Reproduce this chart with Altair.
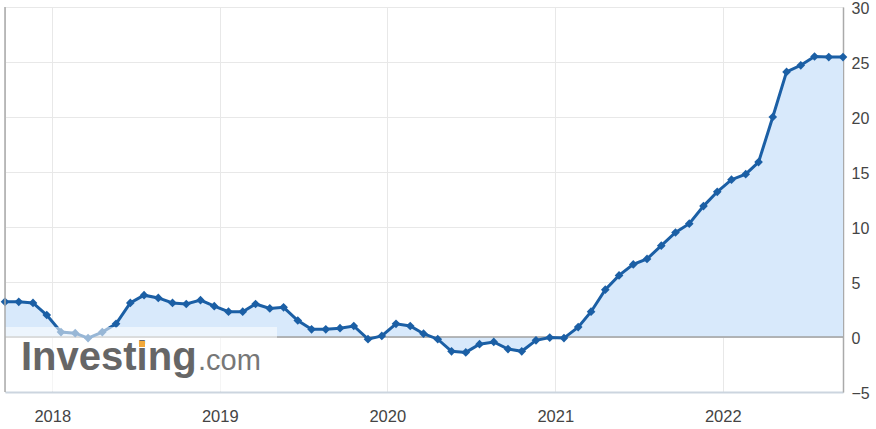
import altair as alt
import pandas as pd

dates = [
    "2017-09-20", "2017-10-20", "2017-11-20", "2017-12-20",
    "2018-01-20", "2018-02-20", "2018-03-20", "2018-04-20", "2018-05-20", "2018-06-20",
    "2018-07-20", "2018-08-20", "2018-09-20", "2018-10-20", "2018-11-20", "2018-12-20",
    "2019-01-20", "2019-02-20", "2019-03-20", "2019-04-20", "2019-05-20", "2019-06-20",
    "2019-07-20", "2019-08-20", "2019-09-20", "2019-10-20", "2019-11-20", "2019-12-20",
    "2020-01-20", "2020-02-20", "2020-03-20", "2020-04-20", "2020-05-20", "2020-06-20",
    "2020-07-20", "2020-08-20", "2020-09-20", "2020-10-20", "2020-11-20", "2020-12-20",
    "2021-01-20", "2021-02-20", "2021-03-20", "2021-04-20", "2021-05-20", "2021-06-20",
    "2021-07-20", "2021-08-20", "2021-09-20", "2021-10-20", "2021-11-20", "2021-12-20",
    "2022-01-20", "2022-02-20", "2022-03-20", "2022-04-20", "2022-05-20", "2022-06-20",
    "2022-07-20", "2022-08-20", "2022-09-20",
]
values = [
    3.2, 3.2, 3.1, 2.0,
    0.45, 0.35, -0.1, 0.45, 1.2, 3.1,
    3.8, 3.55, 3.1, 3.0, 3.35, 2.8,
    2.3, 2.3, 3.0, 2.6, 2.7, 1.5,
    0.7, 0.7, 0.8, 1.0, -0.2, 0.1,
    1.2, 1.0, 0.3, -0.2, -1.3, -1.4,
    -0.65, -0.45, -1.1, -1.3, -0.3, -0.05,
    -0.1, 0.9, 2.3, 4.3, 5.6, 6.6,
    7.1, 8.3, 9.5, 10.3, 11.9, 13.2,
    14.3, 14.8, 15.9, 20.0, 24.1, 24.7,
    25.5, 25.45, 25.45,
]
y_ticks = [-5, 0, 5, 10, 15, 20, 25, 30]
y_domain = [-5, 30]
x_domain = ["2017-09-20", "2022-09-20"]
zero_level = [0]
logo_words = ["Investing", ".com"]

df = pd.DataFrame({"date": pd.to_datetime(dates), "value": values})

FONT = "Liberation Sans"
LINE = "#1b5fa5"
FILL = "#d8e9fb"

x = alt.X("date:T",
          scale=alt.Scale(domain=x_domain),
          axis=alt.Axis(format="%Y", tickCount={"interval": "year", "step": 1},
                        title=None, ticks=False, labelPadding=16,
                        labelFontSize=16.5, labelColor="#444", labelFont=FONT,
                        domainColor="#ccd5df", domainWidth=2,
                        gridColor="#e8e8e8", labelFlush=False))
y_scale = alt.Scale(domain=y_domain, nice=False, zero=False)
y = alt.Y("value:Q", scale=y_scale,
          axis=alt.Axis(orient="right", values=y_ticks, title=None, ticks=False,
                        labelPadding=8, labelFontSize=16, labelColor="#444",
                        labelOffset=1,
                        labelFont=FONT, domainColor="#aaa", domainWidth=1.5,
                        gridColor="#e8e8e8", labelBound=False, labelFlush=False))

base = alt.Chart(df)

area = base.mark_area(color=FILL, opacity=1).encode(x=x, y=y, y2=alt.datum(0))

zero = alt.Chart(pd.DataFrame({"value": zero_level})).mark_rule(
    color="#a0a0a0", strokeWidth=1.5).encode(y=y)

left = alt.Chart(pd.DataFrame({"value": zero_level})).mark_rule(
    color="#aaaaaa", strokeWidth=1.5).encode(
    x=alt.value(0), y=alt.value(0), y2=alt.value(385))

line = base.mark_line(color=LINE, strokeWidth=3).encode(x=x, y=y)
pts = base.mark_point(shape="diamond", filled=True, color=LINE, size=75, opacity=1).encode(x=x, y=y)

veil = alt.Chart(pd.DataFrame({"value": zero_level})).mark_rect(color="white", opacity=0.55).encode(
    x=alt.value(0), x2=alt.value(272), y=alt.value(320), y2=alt.value(384))

logo_df = pd.DataFrame({"t": logo_words})
logo1 = alt.Chart(logo_df).transform_filter(alt.datum.t == "Investing").mark_text(
    align="left", baseline="alphabetic", font=FONT, fontWeight="bold", fontSize=40,
    color="#666666").encode(text="t:N", x=alt.value(16), y=alt.value(363))
logo2 = alt.Chart(logo_df).transform_filter(alt.datum.t == ".com").mark_text(
    align="left", baseline="alphabetic", font=FONT, fontSize=29,
    color="#777777").encode(text="t:N", x=alt.value(193), y=alt.value(363))
dot = alt.Chart(pd.DataFrame({"value": zero_level})).mark_square(
    color="#f2a93b", size=36, opacity=1).encode(x=alt.value(137), y=alt.value(337))

chart = alt.layer(area, zero, line, pts, veil, logo1, logo2, dot, left).properties(
    width=838, height=385,
    autosize=alt.AutoSizeParams(type="none"),
    padding={"left": 5, "top": 7, "right": 33, "bottom": 37},
).configure_view(stroke="#e0e0e0", strokeWidth=1.5).configure(background="white")

chart.save("out.html", embed_options={"renderer": "svg", "actions": False})
